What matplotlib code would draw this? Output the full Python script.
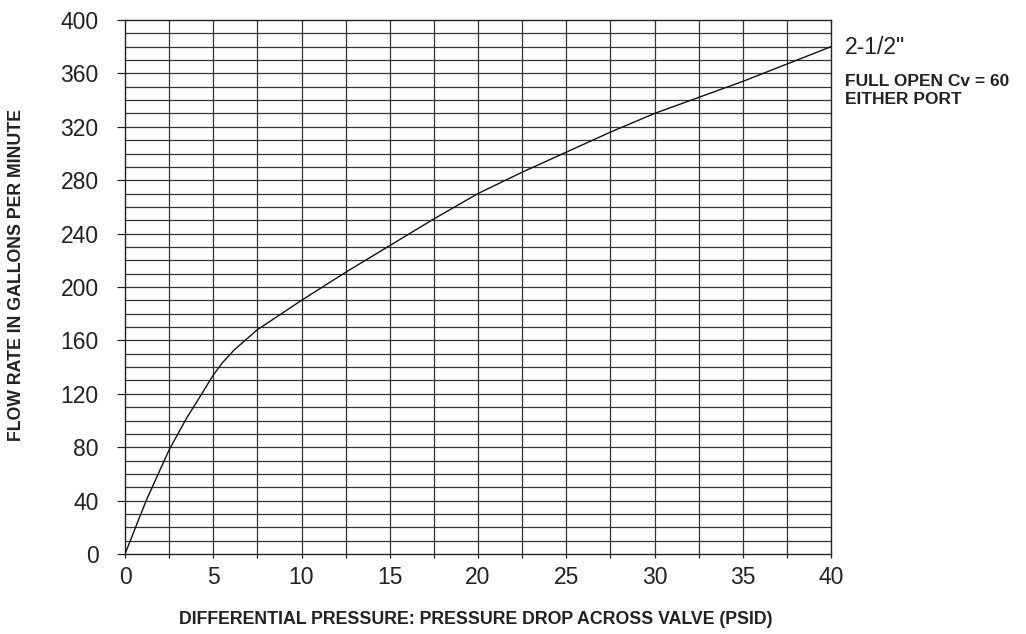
import matplotlib
matplotlib.use("Agg")
import matplotlib.pyplot as plt
import numpy as np

plt.rcParams['font.family'] = ['Liberation Sans', 'DejaVu Sans']

pressure_psid = [0, 1.2, 2.5, 3.5, 4.35, 5.0, 5.5, 6.2, 7.5, 10, 12.5, 15, 17.5,
                 20, 22.5, 25, 27.5, 30, 32.5, 35, 37.5, 40]
flow_gpm = [0, 40, 78, 102, 120, 134, 143, 153, 168, 190, 211, 231, 251,
            270, 286, 301, 316, 330, 342, 354, 367, 380]

x_ticks = [0, 5, 10, 15, 20, 25, 30, 35, 40]
y_ticks = [0, 40, 80, 120, 160, 200, 240, 280, 320, 360, 400]

fig = plt.figure(figsize=(10.26, 6.34), dpi=100)
ax = fig.add_axes([125/1026, 80/634, (831-125)/1026, (554-20)/634])

ax.set_xlim(0, 40)
ax.set_ylim(0, 400)

grid_c = '#333333'
for gx in np.arange(2.5, 40, 2.5):
    ax.axvline(gx, color=grid_c, lw=0.9, zorder=1)
for gy in np.arange(10, 400, 10):
    ax.axhline(gy, color=grid_c, lw=0.9, zorder=1)

ax.plot(pressure_psid, flow_gpm, color='#111111', lw=1.0, zorder=3)

ax.set_xticks(x_ticks)
ax.set_xticks(np.arange(0, 40.1, 2.5), minor=True)
ax.set_yticks(y_ticks)
ax.tick_params(axis='x', which='both', direction='out', length=3, width=0.9,
               color='#222222', labelsize=16.5, pad=6, labelcolor='#222222')
ax.tick_params(axis='y', which='both', direction='out', length=6, width=0.9,
               color='#222222', labelsize=16.5, pad=13, labelcolor='#222222')
for s in ax.spines.values():
    s.set_color('#222222')
    s.set_linewidth(1.0)

fig.text(476/1026, 1 - 620/634, 'DIFFERENTIAL PRESSURE: PRESSURE DROP ACROSS VALVE (PSID)',
         ha='center', va='center', fontsize=12.8, fontweight='bold', color='#222222')
fig.text(17/1026, 1 - 275/634, 'FLOW RATE IN GALLONS PER MINUTE',
         ha='center', va='center', rotation=90, fontsize=12.8, fontweight='bold', color='#222222')

fig.text(845/1026, 1 - 47/634, '2-1/2"', ha='left', va='center', fontsize=16.5, color='#222222')
fig.text(845/1026, 1 - 81/634, 'FULL OPEN Cv = 60', ha='left', va='center',
         fontsize=12.5, fontweight='bold', color='#222222')
fig.text(845/1026, 1 - 99.5/634, 'EITHER PORT', ha='left', va='center',
         fontsize=12.5, fontweight='bold', color='#222222')

fig.savefig('out.png', dpi=100)
